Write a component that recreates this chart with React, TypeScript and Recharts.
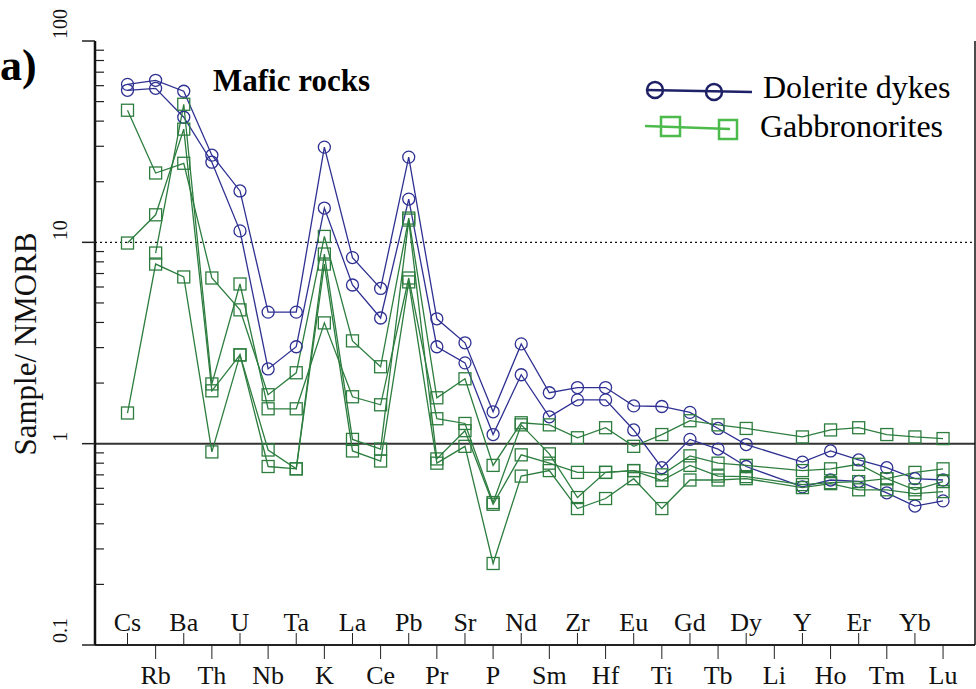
import { LineChart, Line, XAxis, YAxis, ReferenceLine } from "recharts"

const elements = [
  "Cs", "Rb", "Ba", "Th", "U", "Nb", "Ta", "K", "La", "Ce",
  "Pb", "Pr", "Sr", "P", "Nd", "Sm", "Zr", "Hf", "Eu", "Ti",
  "Gd", "Tb", "Dy", "Li", "Y", "Ho", "Er", "Tm", "Yb", "Lu",
]

// Dolerite dykes (2 samples), NMORB-normalised
const dolerite1 = [
  60.9, 63.8, 56.3, 27.1, 18.0, 4.5, 4.5, 29.7, 8.4, 5.9,
  26.5, 4.17, 3.17, 1.44, 3.13, 1.79, 1.9, 1.9, 1.54, 1.53,
  1.43, 1.19, 0.99, null, 0.81, 0.92, 0.83, 0.76, 0.67, 0.66,
]
const dolerite2 = [
  56.9, 58.2, 41.8, 25.0, 11.4, 2.35, 3.03, 14.8, 6.14, 4.21,
  16.4, 3.03, 2.52, 1.11, 2.2, 1.36, 1.65, 1.65, 1.17, 0.76,
  1.05, 0.94, 0.77, null, 0.61, 0.66, 0.65, 0.57, 0.49, 0.52,
]

// Gabbronorites (4 samples)
const gabbro1 = [
  45.3, 22.1, 24.7, 6.65, 4.62, 1.75, 2.25, 10.7, 3.24, 2.41,
  13.2, 1.69, 2.1, 0.78, 1.27, 1.24, 1.07, 1.2, 0.97, 1.11,
  1.3, 1.24, 1.19, null, 1.08, 1.17, 1.2, 1.11, 1.08, 1.06,
]
const gabbro2 = [
  9.92, 13.7, 36.5, 1.83, 2.76, 0.93, 0.75, 8.75, 1.05, 0.94,
  12.9, 0.84, 1.16, 0.5, 0.88, 0.8, 0.72, 0.72, 0.735, 0.7,
  0.87, 0.8, 0.78, null, 0.735, 0.75, 0.79, 0.67, 0.72, 0.75,
]
const gabbro3 = [
  1.42, 7.8, 6.73, 0.91, 2.76, 0.77, 0.75, 7.8, 0.92, 0.82,
  6.36, 0.8, 0.97, 0.254, 0.69, 0.735, 0.476, 0.534, 0.67, 0.476,
  0.66, 0.66, 0.67, null, 0.605, 0.633, 0.59, 0.59, 0.565, 0.578,
]
const gabbro4 = [
  null, 8.85, 48.5, 1.98, 6.21, 1.49, 1.49, 3.98, 1.71, 1.56,
  6.65, 1.33, 1.26, 0.51, 1.24, 0.89, 0.54, 0.72, 0.735, 0.656,
  0.78, 0.69, 0.686, null, 0.626, 0.64, 0.648, 0.67, 0.59, 0.648,
]

const yTicks = [
  0.1, 0.2, 0.3, 0.4, 0.5, 0.6, 0.7, 0.8, 0.9,
  1, 2, 3, 4, 5, 6, 7, 8, 9,
  10, 20, 30, 40, 50, 60, 70, 80, 90, 100,
]
const decadeLabels: Record<number, string> = { 0.1: "0.1", 1: "1", 10: "10", 100: "100" }

const BLUE = "#2f3192"
const GREEN = "#2d7d3f"
const FONT = "'Liberation Serif', 'Times New Roman', serif"

const data = elements.map((el, i) => ({
  idx: i,
  el,
  d1: dolerite1[i],
  d2: dolerite2[i],
  g1: gabbro1[i],
  g2: gabbro2[i],
  g3: gabbro3[i],
  g4: gabbro4[i],
}))

const circleDot = (props: any) => {
  const { cx, cy, value, index } = props
  if (cx == null || cy == null || value == null) return <g key={`c-${index}`} />
  return <circle key={`c-${index}`} cx={cx} cy={cy} r={6} fill="none" stroke={BLUE} strokeWidth={1.3} />
}

const squareDot = (props: any) => {
  const { cx, cy, value, index } = props
  if (cx == null || cy == null || value == null) return <g key={`s-${index}`} />
  return (
    <rect key={`s-${index}`} x={cx - 6} y={cy - 6} width={12} height={12} fill="none" stroke={GREEN} strokeWidth={1.3} />
  )
}

const XTick = ({ x, y, payload }: any) => {
  const i = payload.value as number
  const up = i % 2 === 0
  return (
    <g>
      <line x1={x} x2={x} y1={y} y2={up ? y - 12 : y + 14} stroke="#222" strokeWidth={1} />
      <text
        x={x}
        y={up ? y - 14 : y + 39}
        textAnchor="middle"
        fontSize={26}
        fontFamily={FONT}
        fill="#111"
      >
        {elements[i]}
      </text>
    </g>
  )
}

const YTick = ({ x, y, payload }: any) => {
  const v = payload.value as number
  const label = decadeLabels[v]
  if (!label) {
    return <line x1={x} x2={x + 9} y1={y} y2={y} stroke="#222" strokeWidth={1.2} />
  }
  const tx = x - 28
  const ty = y - 2
  return (
    <g>
      <line x1={x - 13} x2={x} y1={y} y2={y} stroke="#222" strokeWidth={1.5} />
      <text
        x={tx}
        y={ty}
        transform={`rotate(-90, ${tx}, ${ty})`}
        textAnchor="start"
        fontSize={20}
        fontFamily={FONT}
        fill="#111"
      >
        {label}
      </text>
    </g>
  )
}

export default function App() {
  return (
    <div style={{ position: "absolute", left: 0, top: 0, width: 976, height: 689, background: "#fff" }}>
      <LineChart width={976} height={689} data={data} margin={{ top: 41, right: 0, bottom: 0, left: 0 }}>
        <XAxis
          xAxisId="b"
          dataKey="idx"
          type="number"
          domain={[-1.156, 30.136]}
          allowDataOverflow
          ticks={elements.map((_, i) => i)}
          interval={0}
          tick={<XTick />}
          tickLine={false}
          tickSize={0}
          tickMargin={0}
          height={44}
          axisLine={{ stroke: "#222", strokeWidth: 2 }}
        />
        <XAxis
          xAxisId="t"
          orientation="top"
          dataKey="idx"
          type="number"
          domain={[-1.156, 30.136]}
          allowDataOverflow
          tick={false}
          tickLine={false}
          height={0}
          axisLine={{ stroke: "#333", strokeWidth: 3 }}
        />
        <YAxis
          yAxisId="l"
          scale="log"
          type="number"
          domain={[0.1, 100]}
          allowDataOverflow
          ticks={yTicks}
          interval={0}
          tick={<YTick />}
          tickLine={false}
          tickSize={0}
          tickMargin={0}
          width={95}
          axisLine={{ stroke: "#111", strokeWidth: 2.5 }}
        />
        <YAxis
          yAxisId="r"
          orientation="right"
          scale="log"
          type="number"
          domain={[0.1, 100]}
          allowDataOverflow
          tick={false}
          tickLine={false}
          width={1}
          axisLine={{ stroke: "#111", strokeWidth: 1.5 }}
        />
        <ReferenceLine xAxisId="b" yAxisId="l" y={10} stroke="#111" strokeWidth={1.3} strokeDasharray="2 3" />
        <ReferenceLine xAxisId="b" yAxisId="l" y={1} stroke="#333" strokeWidth={2} />
        {(["d1", "d2"] as const).map((k) => (
          <Line
            key={k}
            xAxisId="b"
            yAxisId="l"
            dataKey={k}
            stroke={BLUE}
            strokeWidth={1.3}
            dot={circleDot}
            activeDot={false}
            connectNulls
            isAnimationActive={false}
          />
        ))}
        {(["g1", "g2", "g3", "g4"] as const).map((k) => (
          <Line
            key={k}
            xAxisId="b"
            yAxisId="l"
            dataKey={k}
            stroke={GREEN}
            strokeWidth={1.3}
            dot={squareDot}
            activeDot={false}
            connectNulls
            isAnimationActive={false}
          />
        ))}
      </LineChart>
      <svg
        width={976}
        height={689}
        style={{ position: "absolute", left: 0, top: 0, pointerEvents: "none" }}
      >
        <text x={0} y={80} fontSize={44} fontWeight="bold" fontFamily={FONT} fill="#000">
          a)
        </text>
        <text x={213} y={91} fontSize={31} fontWeight="bold" fontFamily={FONT} fill="#000">
          Mafic rocks
        </text>
        <text
          x={36}
          y={344}
          transform="rotate(-90, 36, 344)"
          textAnchor="middle"
          fontSize={31}
          fontFamily={FONT}
          fill="#111"
        >
          Sample/ NMORB
        </text>
        {/* legend */}
        <line x1={647} y1={90} x2={752} y2={92} stroke="#1f2166" strokeWidth={2.5} />
        <circle cx={655} cy={90} r={8} fill="none" stroke="#1f2166" strokeWidth={2.5} />
        <circle cx={714} cy={92} r={8} fill="none" stroke="#1f2166" strokeWidth={2.5} />
        <text x={763} y={98} fontSize={32} fontFamily={FONT} fill="#000">
          Dolerite dykes
        </text>
        <line x1={645} y1={126} x2={730} y2={129} stroke="#4cbb4c" strokeWidth={2.5} />
        <rect x={661} y={117} width={19} height={19} fill="none" stroke="#4cbb4c" strokeWidth={2.5} />
        <rect x={719} y={120} width={18} height={19} fill="none" stroke="#4cbb4c" strokeWidth={2.5} />
        <text x={760} y={137} fontSize={32} fontFamily={FONT} fill="#000">
          Gabbronorites
        </text>
      </svg>
    </div>
  )
}
